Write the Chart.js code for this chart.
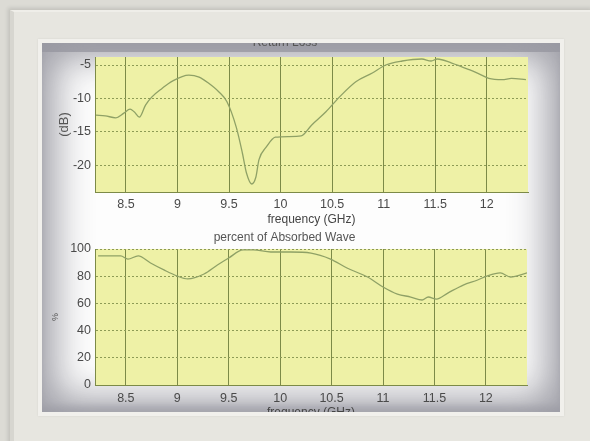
<!DOCTYPE html>
<html>
<head>
<meta charset="utf-8">
<script src="https://cdn.jsdelivr.net/npm/chart.js@4.4.0/dist/chart.umd.min.js"></script>
<style>
  html, body { margin: 0; padding: 0; }
  body { width: 590px; height: 441px; background: #dcdbd5; position: relative; overflow: hidden; font-family: "Liberation Sans", Arial, sans-serif; }
  .frame { position: absolute; left: 10px; top: 10px; width: 580px; height: 440px; background: #e7e6e0;
           box-shadow: -2px -2px 4px rgba(0,0,0,0.12); border-left: 4px solid #d7d6d0; border-top: 2px solid #efeee9; }
  .bevel { position: absolute; left: 38px; top: 39px; width: 526px; height: 377px; background: #f1f0ec;
           box-shadow: 0 0 2px rgba(0,0,0,0.08); }
  .panel { position: absolute; left: 42px; top: 43px; width: 518px; height: 369px; overflow: hidden;
           background: #fdfdfd;
           box-shadow: inset 0 0 36px 14px rgba(150,150,158,0.9), inset 0 9px 0 0 rgba(170,170,178,0.95), inset 0 -6px 6px 0 rgba(170,170,178,0.6); }
  .panel canvas { position: absolute; left: 0; }
  #c1 { top: -12px; }
  #c2 { top: 179px; }
</style>
</head>
<body>
<div class="frame"></div>
<div class="bevel"></div>
<div class="panel">
  <canvas id="c1" width="518" height="200" style="width:518px;height:200px"></canvas>
  <canvas id="c2" width="518" height="200" style="width:518px;height:200px"></canvas>
</div>
<script>
// ── Data ─────────────────────────────────────────────────────────────────
const xTicks = [8.5, 9, 9.5, 10, 10.5, 11, 11.5, 12];
const lossTicks = [-20, -15, -10, -5];
const pctTicks = [0, 20, 40, 60, 80, 100];

const lossFreq = [8.21, 8.30, 8.40, 8.48, 8.54, 8.58, 8.63, 8.69, 8.75, 8.85, 8.95, 9.11, 9.21, 9.30, 9.40, 9.48,
                  9.57, 9.63, 9.67, 9.72, 9.76, 9.79, 9.86, 9.95, 10.08, 10.20, 10.30, 10.44, 10.57, 10.73, 10.89,
                  11.02, 11.18, 11.37, 11.46, 11.52, 11.66, 11.83, 11.95, 12.02, 12.15, 12.24, 12.38];
const lossDb   = [-12.5, -12.6, -12.9, -12.2, -11.6, -12.0, -12.8, -11.0, -9.8, -8.5, -7.4, -6.5, -6.8, -7.7, -9.0, -10.5,
                  -14.3, -18.2, -21.2, -22.8, -21.8, -19.2, -17.3, -15.8, -15.7, -15.6, -14.0, -12.0, -9.8, -7.5, -6.2,
                  -5.0, -4.4, -4.1, -4.4, -4.1, -4.7, -5.7, -6.5, -7.0, -7.2, -7.0, -7.2];

const pctFreq = [8.23, 8.45, 8.52, 8.62, 8.74, 8.87, 9.00, 9.10, 9.26, 9.39, 9.50, 9.64, 9.74, 9.91, 10.10, 10.30,
                 10.49, 10.65, 10.85, 11.00, 11.14, 11.27, 11.38, 11.44, 11.52, 11.63, 11.78, 11.92, 12.01, 12.14, 12.24, 12.40];
const pctAbs  = [94.9, 94.9, 92.6, 94.9, 89.7, 84.6, 80.1, 78.0, 81.6, 88.2, 93.4, 99.3, 99.3, 97.8, 97.8, 97.0,
                 92.6, 86.0, 79.4, 72.1, 66.9, 64.7, 62.5, 64.7, 63.2, 67.6, 73.5, 77.2, 80.1, 82.4, 79.4, 82.4];

// ── Shared look ──────────────────────────────────────────────────────────
const plotBg = {
    id: 'plotBg',
    beforeDraw(chart) {
        const a = chart.chartArea, ctx = chart.ctx;
        ctx.save();
        ctx.fillStyle = '#eef1a6';
        ctx.fillRect(a.left, a.top, a.right - a.left, a.bottom - a.top);
        ctx.restore();
    }
};

const tickFont = { family: '"Liberation Sans", Arial, sans-serif', size: 12.5 };
const labelColor = '#4a4a4a';

function makeChart(id, xs, ys, opt) {
    return new Chart(document.getElementById(id), {
        type: 'line',
        data: { datasets: [{
            data: xs.map((x, i) => ({ x: x, y: ys[i] })),
            borderColor: '#8fa166', borderWidth: 1.3, pointRadius: 0,
            cubicInterpolationMode: 'monotone', fill: false
        }] },
        plugins: [plotBg],
        options: {
            responsive: false, animation: false,
            layout: { padding: { left: 0, right: opt.padRight, top: 0, bottom: 0 } },
            plugins: {
                legend: { display: false }, tooltip: { enabled: false },
                title: { display: true, text: opt.title, color: '#555', font: { family: tickFont.family, size: 12, weight: 'normal' },
                         padding: { top: opt.titleTop, bottom: opt.titleBottom } }
            },
            scales: {
                x: {
                    type: 'linear', min: 8.2, max: 12.4,
                    afterBuildTicks: s => { s.ticks = xTicks.map(v => ({ value: v })); },
                    afterFit: s => { s.height = opt.xHeight; },
                    ticks: { color: labelColor, font: tickFont, padding: opt.xPad, maxRotation: 0, callback: v => String(v) },
                    grid: { color: '#7c8a48', lineWidth: 1, drawTicks: false },
                    border: { color: '#7c8a48' },
                    title: { display: true, text: 'frequency (GHz)', color: '#444', font: { family: tickFont.family, size: 12 },
                             padding: { top: 0, bottom: opt.xTitleBottom } }
                },
                y: {
                    min: opt.yMin, max: opt.yMax,
                    afterBuildTicks: s => { s.ticks = opt.yTicks.map(v => ({ value: v })); },
                    afterFit: s => { s.width = 53; },
                    ticks: { color: labelColor, font: tickFont, padding: 4 },
                    grid: { color: '#8d9b55', lineWidth: 1, drawTicks: false },
                    border: { color: '#7c8a48', dash: [2, 2] },
                    title: { display: true, text: opt.yTitle, color: '#555', font: { family: tickFont.family, size: opt.yTitleSize },
                             padding: { top: opt.yTitlePad, bottom: 0 } }
                }
            }
        }
    });
}

makeChart('c1', lossFreq, lossDb, {
    title: 'Return Loss', titleTop: 4, titleBottom: 7.6, padRight: 32, xHeight: 39, xPad: 5, xTitleBottom: 4,
    yMin: -24, yMax: -3.8, yTicks: lossTicks, yTitle: '(dB)', yTitleSize: 13, yTitlePad: 15
});

makeChart('c2', pctFreq, pctAbs, {
    title: 'percent of Absorbed Wave', titleTop: 8, titleBottom: 4.6, padRight: 33, xHeight: 37, xPad: 6, xTitleBottom: 2,
    yMin: 0, yMax: 100, yTicks: pctTicks, yTitle: '%', yTitleSize: 9, yTitlePad: 8
});
</script>
</body>
</html>
